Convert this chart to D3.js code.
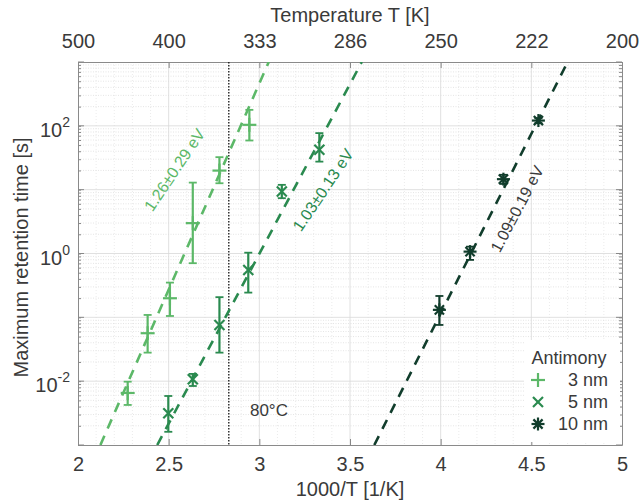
<!DOCTYPE html>
<html><head><meta charset="utf-8">
<script src="https://cdn.jsdelivr.net/npm/d3@7/dist/d3.min.js"></script>
<style>
html,body{margin:0;padding:0;background:#fff;}
text{font-family:"Liberation Sans",Arial,sans-serif;fill:#3a3a3a;}
</style></head>
<body>
<svg id="chart" width="640" height="501"></svg>
<script>
// ---------- data ----------
const xTicks = [2, 2.5, 3, 3.5, 4, 4.5, 5];
const xTickLabels = ["2", "2.5", "3", "3.5", "4", "4.5", "5"];
const topTickLabels = ["500", "400", "333", "286", "250", "222", "200"];
const yTickExps = [-2, 0, 2];

const series3x = [2.274, 2.384, 2.507, 2.633, 2.780, 2.945];
const series3y = [0.00653, 0.0564, 0.199, 2.99, 19.9, 103.7];
const series3lo = [0.00424, 0.0280, 0.105, 0.705, 12.6, 58.9];
const series3hi = [0.00982, 0.109, 0.350, 12.9, 32.3, 178];

const series5x = [2.498, 2.633, 2.780, 2.939, 3.124, 3.331];
const series5y = [0.00314, 0.0107, 0.076, 0.553, 9.33, 42.1];
const series5lo = [0.00161, 0.0084, 0.028, 0.244, 7.36, 27.5];
const series5hi = [0.00586, 0.0130, 0.207, 1.03, 11.9, 76.9];

const series10x = [3.993, 4.162, 4.346, 4.539];
const series10y = [0.131, 1.07, 14.6, 121];
const series10lo = [0.076, 0.794, 12.3, 110];
const series10hi = [0.216, 1.28, 17.1, 132];

const fit3 = [[2.1235, 0.001], [3.052, 1000]];
const fit5 = [[2.437, 0.001], [3.565, 1000]];
const fit10 = [[3.634, 0.001], [4.700, 1000]];

const fitLabels = ["1.26±0.29 eV", "1.03±0.13 eV", "1.09±0.19 eV"];
const legendTitle = "Antimony";
const legendLabels = ["3 nm", "5 nm", "10 nm"];
const tempLineX = 1000 / 353.15;
const tempLabel = "80°C";

// ---------- layout ----------
const svg = d3.select("#chart");
const L = 78, R = 622, T = 62, B = 445;
const x = d3.scaleLinear().domain([2, 5]).range([L, R]);
const y = d3.scaleLog().domain([1e-3, 1e3]).range([B, T]);

const colors = ["#5cb868", "#2a8a4f", "#113d2c"];

// ---------- grid ----------
const grid = svg.append("g");
for (let v = 2.1; v < 5; v += 0.1) {
  if (Math.abs(v * 2 - Math.round(v * 2)) < 1e-6) continue;
  grid.append("line").attr("x1", x(v)).attr("x2", x(v)).attr("y1", T).attr("y2", B)
    .attr("stroke", "#e2e2e2").attr("stroke-width", 0.7).attr("stroke-dasharray", "1,2");
}
for (let e = -3; e < 3; e++) {
  for (let k = 2; k <= 9; k++) {
    const v = k * Math.pow(10, e);
    grid.append("line").attr("x1", L).attr("x2", R).attr("y1", y(v)).attr("y2", y(v))
      .attr("stroke", "#dadada").attr("stroke-width", 0.7).attr("stroke-dasharray", "1,1.5");
  }
}
xTicks.slice(1, -1).forEach(v => {
  grid.append("line").attr("x1", x(v)).attr("x2", x(v)).attr("y1", T).attr("y2", B)
    .attr("stroke", "#d8d8d8").attr("stroke-width", 0.8);
});
for (let e = -2; e <= 2; e++) {
  grid.append("line").attr("x1", L).attr("x2", R).attr("y1", y(Math.pow(10, e))).attr("y2", y(Math.pow(10, e)))
    .attr("stroke", "#d8d8d8").attr("stroke-width", 0.8);
}

// ---------- axes ----------
const axB = svg.append("g").attr("transform", `translate(0,${B})`)
  .call(d3.axisBottom(x).tickValues(xTicks).tickSizeInner(-6).tickSizeOuter(0).tickFormat((d, i) => xTickLabels[i]));
const axT = svg.append("g").attr("transform", `translate(0,${T})`)
  .call(d3.axisTop(x).tickValues(xTicks).tickSizeInner(-6).tickSizeOuter(0).tickFormat((d, i) => topTickLabels[i]));
const minorY = [];
for (let e = -3; e < 3; e++) for (let k = 1; k <= 9; k++) minorY.push(k * Math.pow(10, e));
minorY.push(1000);
const axL = svg.append("g").attr("transform", `translate(${L},0)`)
  .call(d3.axisLeft(y).tickValues(minorY).tickSizeInner(-3).tickSizeOuter(0).tickFormat(""));
const axR = svg.append("g").attr("transform", `translate(${R},0)`)
  .call(d3.axisRight(y).tickValues(minorY).tickSizeInner(-3).tickSizeOuter(0).tickFormat(""));
[axL, axR].forEach((g, i) => {
  for (let e = -3; e <= 3; e++) {
    const yy = y(Math.pow(10, e));
    g.append("line").attr("x1", 0).attr("x2", i === 0 ? 6 : -6).attr("y1", yy).attr("y2", yy).attr("stroke", "#888");
  }
});
[axB, axT, axL, axR].forEach(g => {
  g.select(".domain").attr("stroke", "#8a8a8a");
  g.selectAll(".tick line").attr("stroke", "#888");
  g.selectAll("text").attr("font-size", 20).attr("fill", "#3a3a3a")
    .style("font-family", '"Liberation Sans",Arial,sans-serif');
});
axB.selectAll(".tick text").attr("dy", "0.71em").attr("y", 12);
axT.selectAll(".tick text").attr("y", -14);

yTickExps.forEach(e => {
  const t = svg.append("text").attr("x", L - 8).attr("y", y(Math.pow(10, e)) + 11)
    .attr("text-anchor", "end").attr("font-size", 20);
  t.append("tspan").text("10");
  t.append("tspan").attr("dy", -10).attr("font-size", 14).text(String(e));
});

svg.append("text").attr("x", (L + R) / 2).attr("y", 22).attr("text-anchor", "middle")
  .attr("font-size", 20).text("Temperature T [K]");
svg.append("text").attr("x", (L + R) / 2).attr("y", 496).attr("text-anchor", "middle")
  .attr("font-size", 20).text("1000/T [1/K]");
svg.append("text").attr("transform", `translate(28,${(T + B) / 2 + 4}) rotate(-90)`)
  .attr("text-anchor", "middle").attr("font-size", 20).text("Maximum retention time [s]");

// ---------- 80°C line ----------
svg.append("line").attr("x1", x(tempLineX)).attr("x2", x(tempLineX)).attr("y1", T).attr("y2", B)
  .attr("stroke", "#111").attr("stroke-width", 1.3).attr("stroke-dasharray", "1.5,1.5");
svg.append("text").attr("x", x(3.053)).attr("y", y(Math.pow(10, -2.45)) + 6).attr("text-anchor", "middle")
  .attr("font-size", 17).text(tempLabel);

// ---------- fit lines ----------
svg.append("clipPath").attr("id", "pclip").append("rect")
  .attr("x", L).attr("y", T).attr("width", R - L).attr("height", B - T);
const line = d3.line().x(d => x(d[0])).y(d => y(d[1]));
[fit3, fit5, fit10].forEach((f, i) => {
  svg.append("path").attr("d", line(f)).attr("fill", "none").attr("stroke", colors[i])
    .attr("stroke-width", 2.6).attr("stroke-dasharray", "10,8").attr("clip-path", "url(#pclip)");
});

const labelPos = [[2.532, 20.4, -56], [3.351, 9.9, -56], [4.421, 5.0, -62]];
fitLabels.forEach((s, i) => {
  const p = labelPos[i];
  svg.append("text").attr("transform", `translate(${x(p[0])},${y(p[1])}) rotate(${p[2]})`)
    .attr("text-anchor", "middle").attr("dy", "0.35em").attr("font-size", 16)
    .style("fill", i === 2 ? "#3a3a3a" : colors[i]).text(s);
});

// ---------- markers ----------
function drawMarker(g, cx, cy, type, color) {
  const segs = [];
  if (type === 0) { const h = 7; segs.push([-h, 0, h, 0], [0, -h, 0, h]); }
  else if (type === 1) { const h = 5; segs.push([-h, -h, h, h], [-h, h, h, -h]); }
  else { const h = 6.5, d = 4.6; segs.push([-h, 0, h, 0], [0, -h, 0, h], [-d, -d, d, d], [-d, d, d, -d]); }
  segs.forEach(s => g.append("line").attr("x1", cx + s[0]).attr("y1", cy + s[1])
    .attr("x2", cx + s[2]).attr("y2", cy + s[3]).attr("stroke", color).attr("stroke-width", 2.2));
}
const allSeries = [
  [series3x, series3y, series3lo, series3hi],
  [series5x, series5y, series5lo, series5hi],
  [series10x, series10y, series10lo, series10hi]
];
allSeries.forEach((s, si) => {
  const g = svg.append("g");
  s[0].forEach((xv, i) => {
    const cx = x(xv), y0 = y(s[2][i]), y1 = y(s[3][i]);
    g.append("line").attr("x1", cx).attr("x2", cx).attr("y1", y0).attr("y2", y1)
      .attr("stroke", colors[si]).attr("stroke-width", 2.2);
    [y0, y1].forEach(yy => g.append("line").attr("x1", cx - 4).attr("x2", cx + 4).attr("y1", yy).attr("y2", yy)
      .attr("stroke", colors[si]).attr("stroke-width", 1.8));
    drawMarker(g, cx, y(s[1][i]), si, colors[si]);
  });
});

// ---------- legend ----------
const lg = svg.append("g");
lg.append("rect").attr("x", 524).attr("y", 340).attr("width", 96).attr("height", 102).attr("fill", "#fff");
lg.append("text").attr("x", 569).attr("y", 364).attr("text-anchor", "middle").attr("font-size", 18).text(legendTitle);
legendLabels.forEach((s, i) => {
  const yy = 380 + i * 22;
  drawMarker(lg, 538, yy, i, colors[i]);
  lg.append("text").attr("x", 608).attr("y", yy + 6).attr("text-anchor", "end").attr("font-size", 18).text(s);
});
</script>
</body></html>
